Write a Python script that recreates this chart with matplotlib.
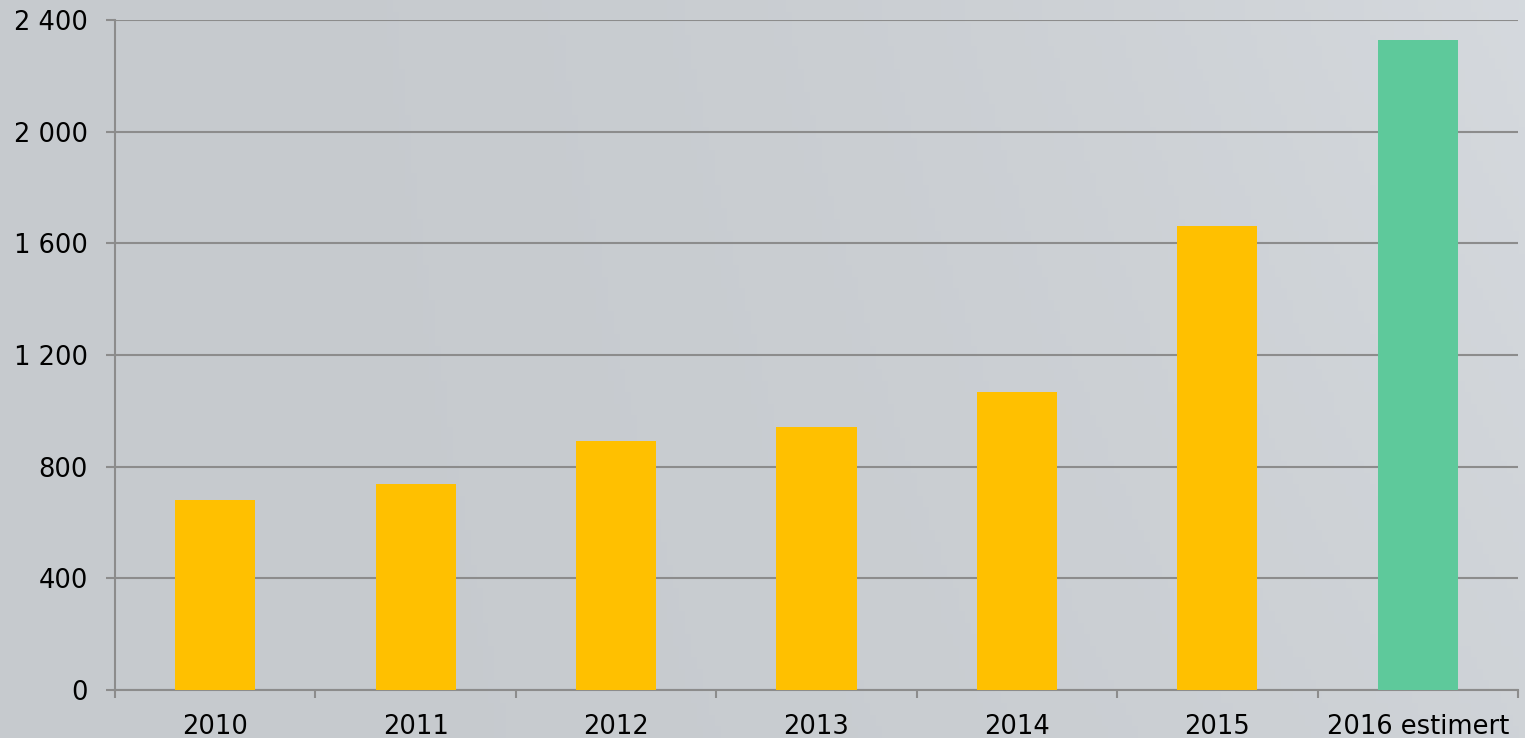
import matplotlib
matplotlib.use("Agg")
import matplotlib.pyplot as plt
import numpy as np
from matplotlib.ticker import FuncFormatter, FixedLocator

categories = ["2010", "2011", "2012", "2013", "2014", "2015", "2016 estimert"]
values = [680, 738, 892, 942, 1067, 1662, 2328]
bar_colors = ["#FFC000"] * 6 + ["#5EC99B"]
yticks = [0, 400, 800, 1200, 1600, 2000, 2400]

fig = plt.figure(figsize=(15.25, 7.38), dpi=100)
fig.patch.set_facecolor("#c8ccd0")

# subtle background gradient
bg = fig.add_axes([0, 0, 1, 1], zorder=-10)
gx = np.linspace(0, 1, 256)
gy = np.linspace(0, 1, 64)
X, Y = np.meshgrid(gx, gy)
base = np.array([198, 202, 206]) / 255
light = np.array([218, 222, 227]) / 255
w = np.clip(0.75 * X ** 2 * (0.6 + 0.4 * Y), 0, 1)
img = base[None, None, :] * (1 - w[..., None]) + light[None, None, :] * w[..., None]
bg.imshow(img, aspect="auto", extent=[0, 1, 0, 1], origin="lower")
bg.axis("off")

ax = fig.add_axes([115 / 1525, 48 / 738, (1518 - 115) / 1525, (690 - 20) / 738])
ax.patch.set_alpha(0)

x = np.arange(len(categories))
ax.bar(x, values, width=0.4, color=bar_colors, zorder=3)

ax.set_xlim(-0.5, len(categories) - 0.5)
ax.set_ylim(0, 2400)
ax.set_yticks(yticks)
ax.yaxis.set_major_formatter(FuncFormatter(lambda v, p: f"{int(v):,}".replace(",", " ")))
ax.grid(axis="y", color="#8c8c8c", linewidth=1.5, zorder=1)
ax.set_axisbelow(True)

ax.set_xticks(x)
ax.set_xticklabels(categories)
ax.xaxis.set_minor_locator(FixedLocator(np.arange(-0.5, len(categories), 1.0)))
ax.tick_params(axis="x", which="major", length=0, pad=17.5, labelsize=18.5, labelcolor="black")
ax.tick_params(axis="x", which="minor", length=6, width=1.5, color="#8c8c8c", direction="out")
ax.tick_params(axis="y", length=6.5, width=1.5, color="#8c8c8c", pad=13, labelsize=18.5, labelcolor="black")

for s in ["top", "right"]:
    ax.spines[s].set_visible(False)
for s in ["left", "bottom"]:
    ax.spines[s].set_color("#8c8c8c")
    ax.spines[s].set_linewidth(1.5)

fig.savefig("out.png", dpi=100, facecolor=fig.get_facecolor())
